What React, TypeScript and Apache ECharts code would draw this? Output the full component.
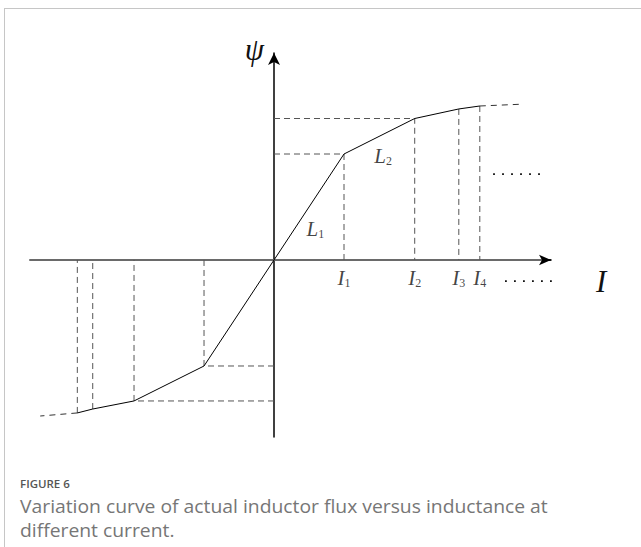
import React, { useEffect, useRef } from "react";
import * as echarts from "echarts";

// Breakpoints of the flux-linkage curve ψ(I); origin first, then outward
const currentPos = [0, 1.0, 2.01, 2.64, 2.94];
const fluxPos = [0, 1.0, 1.335, 1.425, 1.453];
const currentNeg = [0, -1.0, -2.0, -2.59, -2.81];
const fluxNeg = [0, -1.0, -1.33, -1.406, -1.443];

// Dashed continuation of the curve past the last marked current
const tailCurrent = [3.54, -3.34];
const tailFlux = [1.47, -1.472];

// Which breakpoints (after the origin) also get a horizontal guide to the ψ axis
const horizontalGuide = [true, true, false, false];

// Tick labels I1..I4 under the current axis
const tickSubscripts = ["1", "2", "3", "4"];

// Inductance labels on the two steep segments: [I, ψ, subscript]
const inductanceLabels: [number, number, string][] = [
  [0.59, 0.29, "1"],
  [1.56, 0.98, "2"],
];

// Ellipses marking that the sequence continues: [I start, I end, ψ]
const ellipsisRows: [number, number, number][] = [
  [3.13, 3.86, 0.81],
  [3.3, 4.06, -0.2],
];

// Caption lines
const captionLines = [
  "Variation curve of actual inductor flux versus inductance at",
  "different current.",
];

// Axis extents (current, flux)
const I_MIN = -3.486;
const I_MAX = 3.957;
const PSI_MIN = -1.67;
const PSI_MAX = 1.953;

const SERIF = '"Liberation Serif", "DejaVu Serif", serif';
const SANS = '"Open Sans", "Noto Sans", sans-serif';

function buildOption() {
  const curve: number[][] = [];
  for (let i = currentNeg.length - 1; i >= 1; i--) curve.push([currentNeg[i], fluxNeg[i]]);
  for (let i = 0; i < currentPos.length; i++) curve.push([currentPos[i], fluxPos[i]]);

  const guides: any[] = [];
  const addGuides = (xs: number[], ys: number[]) => {
    for (let i = 1; i < xs.length; i++) {
      const pts = horizontalGuide[i - 1]
        ? [[0, ys[i]], [xs[i], ys[i]], [xs[i], 0]]
        : [[xs[i], ys[i]], [xs[i], 0]];
      guides.push({
        type: "line",
        data: pts,
        symbol: "none",
        silent: true,
        lineStyle: { color: "#555", width: 1, type: [6, 4] },
        z: 1,
      });
    }
  };
  addGuides(currentPos, fluxPos);
  addGuides(currentNeg, fluxNeg);

  const lastP = currentPos.length - 1;
  const lastN = currentNeg.length - 1;
  const tails = [
    [[currentPos[lastP], fluxPos[lastP]], [tailCurrent[0], tailFlux[0]]],
    [[currentNeg[lastN], fluxNeg[lastN]], [tailCurrent[1], tailFlux[1]]],
  ].map((d) => ({
    type: "line",
    data: d,
    symbol: "none",
    silent: true,
    clip: false,
    lineStyle: { color: "#333", width: 1, type: [6, 5] },
    z: 2,
  }));

  const dots = ellipsisRows.map(([x0, x1, y]) => ({
    type: "line",
    data: [[x0, y], [x1, y]],
    symbol: "none",
    silent: true,
    clip: false,
    lineStyle: { color: "#111", width: 1.8, type: [1.8, 7.2] },
  }));

  const italic = (size: number) => ({
    fontFamily: SERIF,
    fontStyle: "italic",
    fontSize: size,
    color: "#111",
  });
  const sub = { fontFamily: SERIF, fontSize: 12, color: "#111", verticalAlign: "bottom", padding: [9, 0, 0, 0] };

  const tickPoints = currentPos.slice(1).map((x, i) => [x, 0, tickSubscripts[i]]);

  return {
    animation: false,
    backgroundColor: "#fff",
    grid: { left: 30, right: 90, top: 53, bottom: 110, containLabel: false, outerBoundsMode: "none" },
    xAxis: {
      type: "value",
      min: I_MIN,
      max: I_MAX,
      axisLine: {
        onZero: true,
        lineStyle: { color: "#6a6a6a", width: 2 },
      },
      axisTick: { show: false },
      splitLine: { show: false },
      axisLabel: { show: false },
      name: "I",
      nameLocation: "end",
      nameGap: 45,
      nameTextStyle: { ...italic(31), verticalAlign: "top", padding: [6, 0, 0, 0] },
    },
    yAxis: {
      type: "value",
      min: PSI_MIN,
      max: PSI_MAX,
      axisLine: {
        onZero: true,
        symbol: ["none", "arrow"],
        symbolSize: [9, 12],
        lineStyle: { color: "#000", width: 1.5 },
      },
      axisTick: { show: false },
      splitLine: { show: false },
      axisLabel: { show: false },
      name: "ψ",
      nameLocation: "end",
      nameGap: 19,
      nameTextStyle: { ...italic(31), align: "right", verticalAlign: "top", padding: [0, 10, 0, 0] },
    },
    series: [
      ...guides,
      ...tails,
      ...dots,
      {
        type: "line",
        name: "ψ(I)",
        data: curve,
        symbol: "none",
        silent: true,
        lineStyle: { color: "#000", width: 1 },
        z: 3,
        // black arrow head at the end of the current axis
        markLine: {
          silent: true,
          symbol: ["none", "arrow"],
          symbolSize: [8, 12],
          label: { show: false },
          lineStyle: { color: "#000", width: 1.5, type: "solid" },
          data: [[{ coord: [I_MAX - 0.04, 0] }, { coord: [I_MAX, 0] }]],
        },
      },
      {
        type: "scatter",
        data: inductanceLabels,
        symbolSize: 0,
        silent: true,
        label: {
          show: true,
          position: "inside",
          formatter: (p: any) => `{l|L}{s|${p.value[2]}}`,
          rich: { l: italic(21), s: sub },
        },
      },
      {
        type: "scatter",
        data: tickPoints,
        symbolSize: 0,
        silent: true,
        clip: false,
        label: {
          show: true,
          position: "bottom",
          distance: 8,
          formatter: (p: any) => `{i|I}{s|${p.value[2]}}`,
          rich: { i: italic(21), s: sub },
        },
      },
    ],
    graphic: [
      {
        type: "line",
        shape: { x1: 4, y1: 8.5, x2: 641, y2: 8.5 },
        style: { stroke: "#c6c6c6", lineWidth: 1 },
      },
      {
        type: "line",
        shape: { x1: 4.5, y1: 8, x2: 4.5, y2: 547 },
        style: { stroke: "#c6c6c6", lineWidth: 1 },
      },
      {
        type: "text",
        left: 20,
        top: 477,
        style: { text: "FIGURE 6", fontFamily: SANS, fontSize: 11.5, fontWeight: 600, fill: "#555" },
      },
      ...captionLines.map((line, i) => ({
        type: "text",
        x: 20,
        y: 497 + i * 24,
        scaleX: 1.074,
        style: {
          text: line,
          fontFamily: SANS,
          fontSize: 18,
          fill: "#767676",
        },
      })),
    ],
  };
}

export default function App() {
  const ref = useRef<HTMLDivElement>(null);
  useEffect(() => {
    if (!ref.current) return;
    const chart = echarts.init(ref.current, undefined, { renderer: "svg" });
    chart.setOption(buildOption() as any);
    return () => chart.dispose();
  }, []);
  return (
    <div
      ref={ref}
      style={{ position: "absolute", left: 0, top: 0, width: 641, height: 547, background: "#fff" }}
    />
  );
}
